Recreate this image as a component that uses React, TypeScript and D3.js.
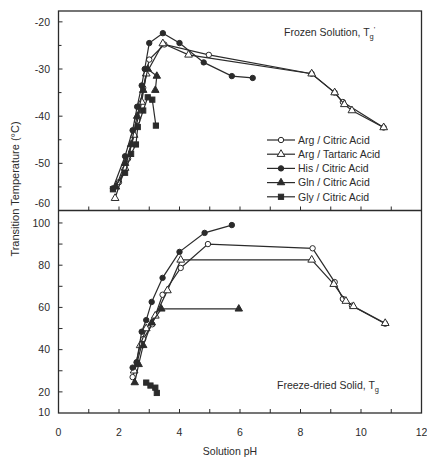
import * as d3 from 'd3';
import React from 'react';

// series names (legend order)
const seriesNames = ['Arg / Citric Acid', 'Arg / Tartaric Acid', 'His / Citric Acid', 'Gln / Citric Acid', 'Gly / Citric Acid'];

// frozen solution, Tg'
const argCitTopPH = [2.0, 2.3, 2.6, 2.8, 3.0, 3.5, 4.97, 8.37, 9.13, 9.4, 10.75];
const argCitTopT = [-54, -49, -41, -34, -28, -24.8, -27, -31, -35, -37, -42.4];
const argTarTopPH = [1.87, 2.2, 2.5, 2.75, 2.9, 3.45, 4.3, 8.37, 9.13, 9.45, 9.7, 10.75];
const argTarTopT = [-57.4, -51, -44, -37, -31, -24.6, -27, -31, -35, -37.5, -38.8, -42.4];
const hisTopPH = [1.8, 2.2, 2.45, 2.6, 2.75, 2.85, 3.0, 3.45, 4.0, 4.8, 5.73, 6.42];
const hisTopT = [-55.3, -48.5, -43, -38, -33.5, -30, -24.5, -22.4, -24.5, -28.6, -31.5, -31.9];
const glnTopPH = [1.9, 2.2, 2.4, 2.6, 2.8, 2.95, 3.25, 3.2];
const glnTopT = [-55, -50, -46, -40, -34.5, -30, -31.5, -34.5];
const glyTopPH = [1.8, 2.2, 2.4, 2.56, 2.62, 2.8, 2.95, 3.1, 3.22];
const glyTopT = [-55.5, -52, -48, -46, -42.3, -38.8, -36, -36.5, -42];

// freeze-dried solid, Tg
const argCitBotPH = [2.45, 2.6, 2.8, 3.1, 3.44, 4.04, 4.94, 8.4, 9.13, 9.4, 9.7, 10.8];
const argCitBotT = [27, 34, 45, 52, 66, 78.7, 90, 88, 72, 64, 60.8, 52.3];
const argTarBotPH = [2.5, 2.7, 2.9, 3.2, 3.6, 4.04, 8.37, 9.1, 9.5, 9.75, 10.8];
const argTarBotT = [30, 42, 50, 56, 68, 82.5, 82.5, 71, 63, 60.5, 52.5];
const hisBotPH = [2.45, 2.58, 2.75, 2.9, 3.08, 3.44, 4.0, 4.83, 5.73];
const hisBotT = [31.5, 34, 48.5, 54, 62.6, 74, 86.3, 95.3, 99];
const glnBotPH = [2.52, 2.65, 2.8, 3.08, 3.4, 5.96];
const glnBotT = [24.4, 33, 42, 52.7, 59.3, 59.3];
const glyBotPH = [2.9, 3.04, 3.2, 3.25];
const glyBotT = [24.4, 23, 22, 19.5];

const xTickLabels = [0, 2, 4, 6, 8, 10, 12];
const topTickLabels = [-20, -30, -40, -50, -60];
const botTickLabels = [100, 80, 60, 40, 20, 10];

const ink = '#2b2b2b';
const font = 'Liberation Sans, Arial, sans-serif';

const markerKinds = ['openCircle', 'openTriangle', 'circle', 'triangle', 'square'];

function Marker({ kind, x, y }) {
    const open = kind.startsWith('open');
    const fill = open ? '#fff' : ink;
    if (kind.endsWith('ircle')) {
        return <circle cx={x} cy={y} r={2.7} fill={fill} stroke={ink} strokeWidth={1} />;
    }
    if (kind === 'square') {
        return <rect x={x - 2.6} y={y - 2.6} width={5.2} height={5.2} fill={fill} stroke={ink} strokeWidth={1} />;
    }
    const tri = d3.symbol().type(d3.symbolTriangle).size(open ? 26 : 24)();
    return <path d={tri} transform={`translate(${x},${y})`} fill={fill} stroke={ink} strokeWidth={1} />;
}

function Series({ xs, ys, x, y, kind }) {
    const pts = xs.map((v, i) => [x(v), y(ys[i])]);
    const line = d3.line();
    return (
        <g>
            <path d={line(pts)} fill="none" stroke={ink} strokeWidth={1.2} />
            {pts.map((p, i) => <Marker key={i} kind={kind} x={p[0]} y={p[1]} />)}
        </g>
    );
}

export default function App() {
    const W = 427, H = 458;
    const left = 58.5, right = 421.5, top = 11, mid = 210.5, bottom = 413;

    const x = d3.scaleLinear().domain([0, 12]).range([left, right]);
    const yTop = d3.scaleLinear().domain([-60, -17.7]).range([mid, top]);
    const yBot = d3.scaleLinear().domain([10, 105.9]).range([bottom, mid]);

    const topSeries = [
        [argCitTopPH, argCitTopT], [argTarTopPH, argTarTopT], [hisTopPH, hisTopT],
        [glnTopPH, glnTopT], [glyTopPH, glyTopT],
    ];
    const botSeries = [
        [argCitBotPH, argCitBotT], [argTarBotPH, argTarBotT], [hisBotPH, hisBotT],
        [glnBotPH, glnBotT], [glyBotPH, glyBotT],
    ];

    const xMinor = d3.range(1, 12);
    const topTicks = d3.range(-60, -19, 5);
    const botTicks = d3.range(20, 101, 10);

    return (
        <svg width={W} height={H} style={{ position: 'absolute', left: 0, top: 0, background: '#fff' }}
            fontFamily={font} fill={ink}>
            {/* frame */}
            <rect x={left} y={top} width={right - left} height={bottom - top} fill="none" stroke={ink} strokeWidth={1.3} />
            <line x1={left} x2={right} y1={mid} y2={mid} stroke={ink} strokeWidth={1.3} />

            {/* x ticks on bottom axis and divider */}
            {xMinor.map(v => (
                <g key={v}>
                    <line x1={x(v)} x2={x(v)} y1={bottom} y2={bottom - 4} stroke={ink} />
                    <line x1={x(v)} x2={x(v)} y1={mid} y2={mid - 4} stroke={ink} />
                </g>
            ))}
            {xTickLabels.map(v => (
                <text key={v} x={x(v)} y={436} textAnchor="middle" fontSize={10.5}>{v}</text>
            ))}

            {/* y ticks */}
            {topTicks.map(v => (
                <line key={v} x1={left} x2={left + (v % 10 === 0 ? 4 : 3)} y1={yTop(v)} y2={yTop(v)} stroke={ink} />
            ))}
            {topTickLabels.map(v => (
                <text key={v} x={50} y={(v === -60 ? yTop(v) - 7 : yTop(v)) + 3.8} textAnchor="end" fontSize={10.5}>{v}</text>
            ))}
            {botTicks.map(v => (
                <line key={v} x1={left} x2={left + 4} y1={yBot(v)} y2={yBot(v)} stroke={ink} />
            ))}
            {botTickLabels.map(v => (
                <text key={v} x={50} y={(v === 10 ? yBot(v) - 1 : yBot(v)) + 3.8} textAnchor="end" fontSize={10.5}>{v}</text>
            ))}

            {/* axis titles */}
            <text transform="translate(19,189) rotate(-90)" textAnchor="middle" fontSize={11}>Transition Temperature (°C)</text>
            <text x={230} y={455} textAnchor="middle" fontSize={10.5}>Solution pH</text>

            {/* panel labels */}
            <text x={284} y={36} fontSize={10.5}>Frozen Solution, T<tspan fontSize={7.5} dy={3}>g</tspan><tspan fontSize={8} dy={-7}>'</tspan></text>
            <text x={277} y={389} fontSize={10.5}>Freeze-dried Solid, T<tspan fontSize={7.5} dy={3}>g</tspan></text>

            {/* series */}
            {topSeries.map((s, i) => <Series key={'t' + i} xs={s[0]} ys={s[1]} x={x} y={yTop} kind={markerKinds[i]} />)}
            {botSeries.map((s, i) => <Series key={'b' + i} xs={s[0]} ys={s[1]} x={x} y={yBot} kind={markerKinds[i]} />)}

            {/* legend */}
            {seriesNames.map((name, i) => {
                const ly = 140 + i * 14.2;
                return (
                    <g key={name}>
                        <line x1={267} x2={295} y1={ly} y2={ly} stroke={ink} strokeWidth={1.2} />
                        <Marker kind={markerKinds[i]} x={281} y={ly} />
                        <text x={298} y={ly + 3.8} fontSize={10.5}>{name}</text>
                    </g>
                );
            })}
        </svg>
    );
}
